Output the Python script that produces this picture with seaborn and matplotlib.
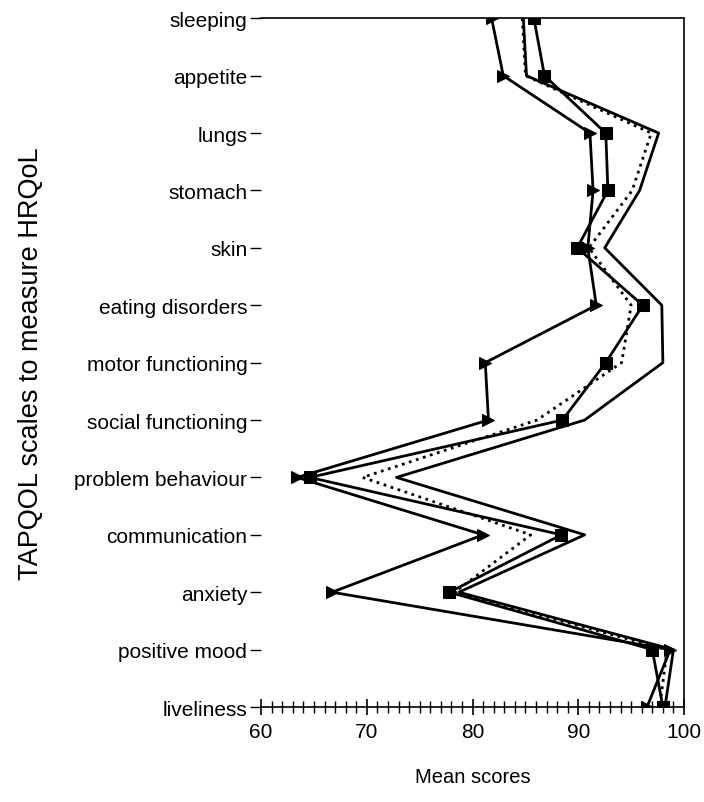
import numpy as np
import pandas as pd
import seaborn as sns
import matplotlib.pyplot as plt
from matplotlib.ticker import MultipleLocator

sns.set_style('ticks')
plt.rcParams['font.family'] = ['Liberation Sans', 'DejaVu Sans']
plt.rcParams['text.color'] = 'black'
plt.rcParams['axes.labelcolor'] = 'black'
plt.rcParams['xtick.color'] = 'black'
plt.rcParams['ytick.color'] = 'black'

scales = ['sleeping', 'appetite', 'lungs', 'stomach', 'skin', 'eating disorders',
          'motor functioning', 'social functioning', 'problem behaviour',
          'communication', 'anxiety', 'positive mood', 'liveliness']

# four groups
triangle_scores = [81.8, 82.9, 91.1, 91.4, 90.9, 91.7, 81.2, 81.5, 63.4, 81.0, 66.7, 98.7, 96.5]
square_scores = [85.8, 86.8, 92.6, 92.8, 89.9, 96.1, 92.6, 88.5, 64.6, 88.4, 77.8, 97.0, 98.0]
dotted_scores = [84.7, 85.0, 96.9, 95.1, 91.0, 95.0, 94.1, 86.1, 69.6, 85.5, 78.3, 98.4, 97.7]
solid_scores = [84.8, 85.1, 97.6, 95.8, 92.5, 97.9, 98.0, 90.6, 72.8, 90.6, 78.7, 99.0, 98.2]

series = [
    (solid_scores, dict(linestyle='-', marker=None)),
    (dotted_scores, dict(linestyle=':', marker=None)),
    (square_scores, dict(linestyle='-', marker='s', markersize=8.5)),
    (triangle_scores, dict(linestyle='-', marker='>', markersize=8)),
]

fig, ax = plt.subplots(figsize=(7.04, 8.03), dpi=100)
fig.subplots_adjust(left=0.371, right=0.9716, top=0.976, bottom=0.1183)

for scores, style in series:
    df = pd.DataFrame({'scale': scales, 'score': scores})
    sns.lineplot(data=df, x='score', y='scale', orient='y', sort=False,
                 estimator=None, color='black', linewidth=2,
                 markeredgecolor='black', ax=ax, **style)

ax.set_xlim(60, 100)
ax.set_ylim(len(scales) - 1, 0)
ax.set_xticks([60, 70, 80, 90, 100])
ax.xaxis.set_minor_locator(MultipleLocator(1))
ax.tick_params(axis='x', which='major', direction='inout', length=12, width=1.2,
               labelsize=15, pad=5)
ax.tick_params(axis='x', which='minor', direction='inout', length=8, width=1)
ax.tick_params(axis='y', direction='out', length=8, width=1, labelsize=15, pad=2)

for side in ['top', 'right', 'bottom']:
    ax.spines[side].set_visible(True)
    ax.spines[side].set_color('black')
    ax.spines[side].set_linewidth(1.2)
ax.spines['left'].set_visible(False)

ax.set_xlabel('Mean scores', fontsize=14.5, va='center')
ax.xaxis.set_label_coords(0.5, -0.1016)
ax.set_ylabel('TAPQOL scales to measure HRQoL', fontsize=19.5, va='center')
ax.yaxis.set_label_coords(-0.544, 0.5)

plt.savefig('out.png', dpi=100)
plt.close()
